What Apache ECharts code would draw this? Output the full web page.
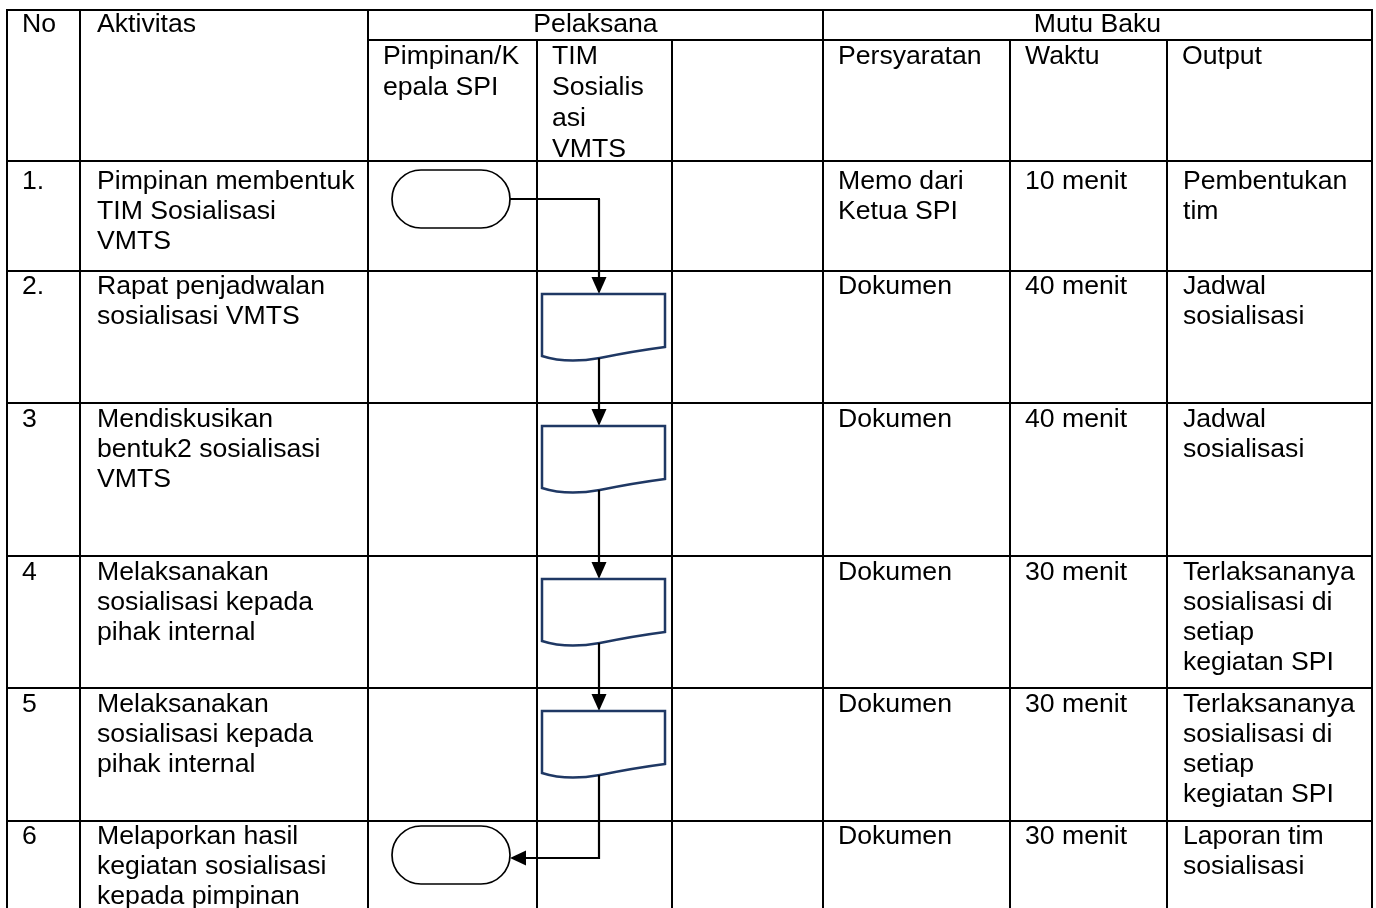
<!DOCTYPE html>
<html><head><meta charset="utf-8">
<script src="https://cdn.jsdelivr.net/npm/echarts@6/dist/echarts.min.js"></script>
<style>html,body{margin:0;padding:0;background:#fff}#c{width:1376px;height:908px}</style>
</head><body><div id="c"></div>
<script>
// ---------- data ----------
const stepNo = ['1.', '2.', '3', '4', '5', '6'];
const activities = [
  'Pimpinan membentuk\nTIM Sosialisasi\nVMTS',
  'Rapat penjadwalan\nsosialisasi VMTS',
  'Mendiskusikan\nbentuk2 sosialisasi\nVMTS',
  'Melaksanakan\nsosialisasi kepada\npihak internal',
  'Melaksanakan\nsosialisasi kepada\npihak internal',
  'Melaporkan hasil\nkegiatan sosialisasi\nkepada pimpinan'
];
const actorLane = [0, 1, 1, 1, 1, 0];
const symbolType = ['terminator', 'document', 'document', 'document', 'document', 'terminator'];
const requirements = ['Memo dari\nKetua SPI', 'Dokumen', 'Dokumen', 'Dokumen', 'Dokumen', 'Dokumen'];
const durations = ['10 menit', '40 menit', '40 menit', '30 menit', '30 menit', '30 menit'];
const outputs = [
  'Pembentukan\ntim',
  'Jadwal\nsosialisasi',
  'Jadwal\nsosialisasi',
  'Terlaksananya\nsosialisasi di\nsetiap\nkegiatan SPI',
  'Terlaksananya\nsosialisasi di\nsetiap\nkegiatan SPI',
  'Laporan tim\nsosialisasi'
];
const headerTop = ['No', 'Aktivitas', 'Pelaksana', 'Mutu Baku'];
const laneHeaders = ['Pimpinan/K\nepala SPI', 'TIM\nSosialis\nasi\nVMTS', ''];
const qualityHeaders = ['Persyaratan', 'Waktu', 'Output'];

// ---------- layout ----------
const W = 1376, H = 908;
const colEdges = [7, 80, 368, 537, 672, 823, 1010, 1167, 1372];
const headerEdges = [10, 40, 161];
const rowEdges = [161, 271, 403, 556, 688, 821, 960];
const textPad = [6, 1, 2, 2, 2, 1];
const termPad = [9, 5, 5, 5, 5, 5];
const FONT = '"Liberation Sans", Arial, sans-serif';
const FS = 25, LH = 30, SX = 1.065;
const GRID_W = 2, LINK_W = 2.2, TERM_W = 1.7, DOC_W = 2.5;
const DOC_COLOR = '#1f3864';

function txt(api, x, y, s, align, lh) {
  const p = api.coord([x, y]);
  return {
    type: 'text', x: p[0], y: p[1], scaleX: SX, silent: true,
    style: { text: s, fill: '#000', fontSize: FS, fontFamily: FONT, lineHeight: lh || LH,
      align: align || 'left', verticalAlign: 'top', textAlign: align || 'left', textVerticalAlign: 'top' }
  };
}
function seg(api, x1, y1, x2, y2, w, color) {
  const a = api.coord([x1, y1]), b = api.coord([x2, y2]);
  return { type: 'line', silent: true, shape: { x1: a[0], y1: a[1], x2: b[0], y2: b[1] },
    style: { stroke: color || '#000', lineWidth: w } };
}
function poly(api, pts) {
  return { type: 'polygon', silent: true, shape: { points: pts.map(p => api.coord(p)) }, style: { fill: '#000' } };
}

// geometry of a symbol in row i
function shapeBox(i) {
  const top = rowEdges[i];
  const lL = colEdges[2 + actorLane[i]];
  if (symbolType[i] === 'terminator') {
    const x = lL + 24, y = top + termPad[i], w = 118, h = 58;
    return { kind: 'terminator', x, y, w, h, cx: x + w / 2, cy: y + h / 2, right: x + w };
  }
  const x = lL + 5, y = top + 23, w = 123;
  return { kind: 'document', x, y, w, cx: lL + 62, bottomAtC: y + 64 };
}

function renderHeader(params, api) {
  const ch = [];
  const [t, m, b] = headerEdges;
  ch.push(seg(api, colEdges[0] - 1, t, colEdges[8] + 1, t, GRID_W));
  ch.push(seg(api, colEdges[2], m, colEdges[8], m, GRID_W));
  ch.push(seg(api, colEdges[0], b, colEdges[8], b, GRID_W));
  [0, 1, 2, 5, 8].forEach(k => ch.push(seg(api, colEdges[k], t, colEdges[k], b, GRID_W)));
  [3, 4, 6, 7].forEach(k => ch.push(seg(api, colEdges[k], m, colEdges[k], b, GRID_W)));
  ch.push(txt(api, colEdges[0] + 15, t + 0, headerTop[0]));
  ch.push(txt(api, colEdges[1] + 17, t + 0, headerTop[1]));
  ch.push(txt(api, (colEdges[2] + colEdges[5]) / 2, t + 0, headerTop[2], 'center'));
  ch.push(txt(api, (colEdges[5] + colEdges[8]) / 2, t + 0, headerTop[3], 'center'));
  laneHeaders.forEach((s, k) => { if (s) ch.push(txt(api, colEdges[2 + k] + 15, m + 2, s, 'left', 31)); });
  qualityHeaders.forEach((s, k) => ch.push(txt(api, colEdges[5 + k] + 15, m + 2, s)));
  return { type: 'group', children: ch };
}

function renderRow(params, api) {
  const i = api.value(0);
  const top = rowEdges[i], bot = Math.min(rowEdges[i + 1], H + 2);
  const ch = [];
  colEdges.forEach(x => ch.push(seg(api, x, top, x, bot, GRID_W)));
  if (rowEdges[i + 1] < H) ch.push(seg(api, colEdges[0], bot, colEdges[8], bot, GRID_W));
  const ty = top + textPad[i];
  ch.push(txt(api, colEdges[0] + 15, ty, stepNo[i]));
  ch.push(txt(api, colEdges[1] + 17, ty, activities[i]));
  ch.push(txt(api, colEdges[5] + 15, ty, requirements[i]));
  ch.push(txt(api, colEdges[6] + 15, ty, durations[i]));
  ch.push(txt(api, colEdges[7] + 16, ty, outputs[i]));

  const s = shapeBox(i);
  if (s.kind === 'terminator') {
    const p = api.coord([s.x, s.y]);
    ch.push({ type: 'rect', silent: true, shape: { x: p[0], y: p[1], width: s.w, height: s.h, r: s.h / 2 },
      style: { fill: '#fff', stroke: '#000', lineWidth: TERM_W } });
  } else {
    const x1 = s.x, x2 = s.x + s.w, w = s.w, yt = s.y;
    const P = (x, y) => api.coord([x, y]).join(' ');
    const d = 'M' + P(x1, yt) + ' L' + P(x2, yt) + ' L' + P(x2, yt + 53) +
      ' Q' + P(x1 + 0.75 * w, yt + 57) + ' ' + P(x1 + 0.47 * w, yt + 64) +
      ' Q' + P(x1 + 0.2 * w, yt + 70) + ' ' + P(x1, yt + 62) + ' Z';
    ch.push({ type: 'path', silent: true, shape: { pathData: d },
      style: { fill: '#fff', stroke: DOC_COLOR, lineWidth: DOC_W } });
  }

  // connector to next step
  if (i + 1 < stepNo.length) {
    const n = shapeBox(i + 1);
    if (n.kind === 'document') {
      const tipY = n.y;
      let sy;
      if (s.kind === 'terminator') {
        ch.push(seg(api, s.right, s.cy, n.cx + 1, s.cy, LINK_W));
        sy = s.cy;
      } else { sy = s.bottomAtC; }
      ch.push(seg(api, n.cx, sy, n.cx, tipY - 14, LINK_W));
      ch.push(poly(api, [[n.cx - 7.5, tipY - 17], [n.cx + 7.5, tipY - 17], [n.cx, tipY]]));
    } else {
      const ly = n.cy + 3;
      ch.push(seg(api, s.cx, s.bottomAtC, s.cx, ly + 1, LINK_W));
      ch.push(seg(api, s.cx + 1, ly, n.right + 14, ly, LINK_W));
      ch.push(poly(api, [[n.right + 16, ly - 7.5], [n.right + 16, ly + 7.5], [n.right, ly]]));
    }
  }
  return { type: 'group', children: ch };
}

const chart = echarts.init(document.getElementById('c'));
chart.setOption({
  animation: false,
  backgroundColor: '#fff',
  grid: { left: 0, right: 0, top: 0, bottom: 0 },
  xAxis: { type: 'value', min: 0, max: W, show: false },
  yAxis: { type: 'value', min: 0, max: H, inverse: true, show: false },
  series: [
    { type: 'custom', renderItem: renderRow, clip: false, z: 1,
      data: stepNo.map((_, i) => [i, 0]) },
    { type: 'custom', renderItem: renderHeader, clip: false, z: 2, data: [[0, 0]] }
  ]
});
</script>
</body></html>
